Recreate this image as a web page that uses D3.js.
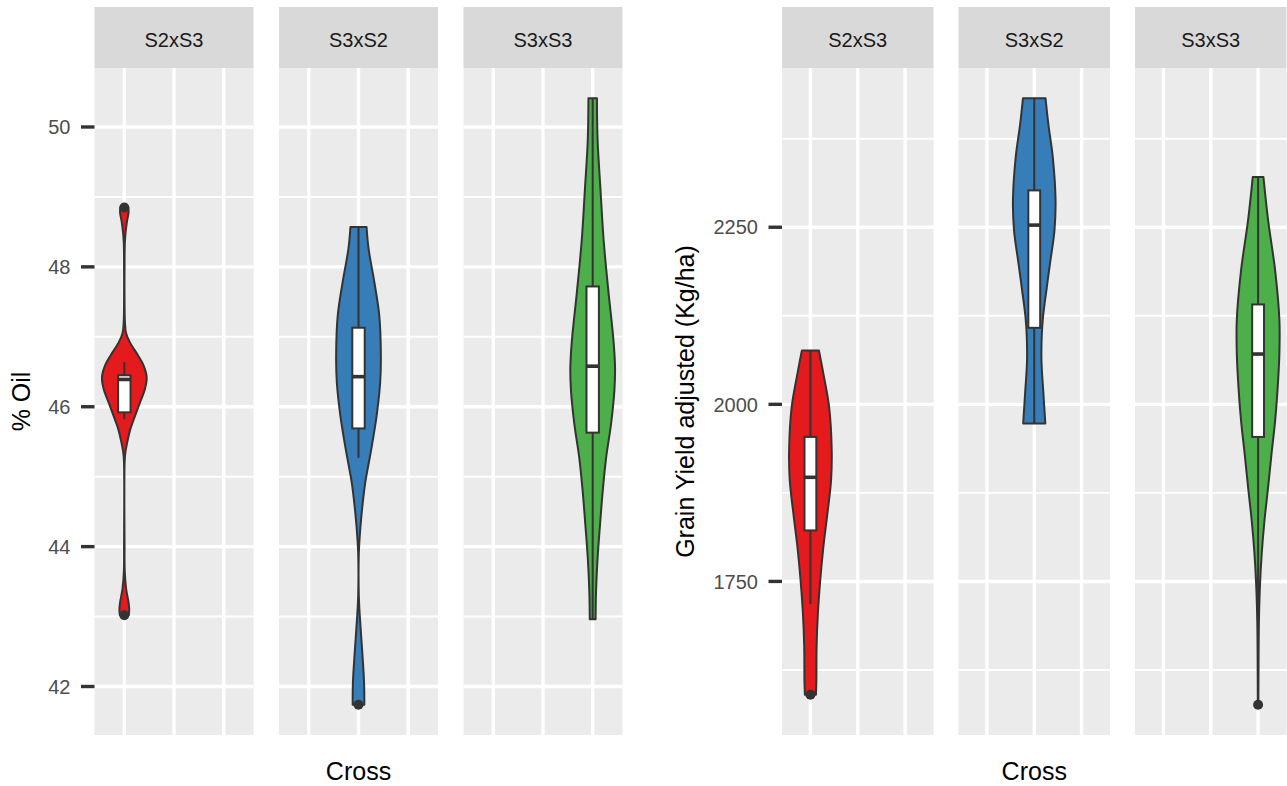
<!DOCTYPE html>
<html><head><meta charset="utf-8">
<script src="https://cdn.jsdelivr.net/npm/d3@7/dist/d3.min.js"></script>
<style>
body{margin:0;background:#fff}
svg{display:block}
text{font-family:"Liberation Sans",Arial,Helvetica,sans-serif}
</style>
</head><body>
<svg id="chart" width="1287" height="786"></svg>
<script>
// ---------------- DATA ----------------
const crosses = ["S2xS3", "S3xS2", "S3xS3"];
const crossColors = ["#E41A1C", "#377EB8", "#4DAF4A"];

// % Oil
const oilTicks = [42, 44, 46, 48, 50];
const oilMinorTicks = [43, 45, 47, 49, 51];
// violin profiles: [value, relative density (0..1)]
const oilViolinS2xS3 = [
  [48.85,0.18],[48.78,0.19],[48.65,0.12],[48.5,0.06],[48.35,0.025],[48.0,0.012],[47.5,0.012],
  [47.2,0.03],[47.05,0.08],[46.92,0.25],[46.73,0.62],[46.59,0.86],[46.42,1.0],[46.25,0.92],
  [46.06,0.70],[45.87,0.48],[45.68,0.27],[45.49,0.13],[45.34,0.045],[45.2,0.015],[44.0,0.012],
  [43.65,0.02],[43.4,0.08],[43.2,0.19],[43.1,0.22],[43.02,0.2]
];
const oilViolinS3xS2 = [
  [48.57,0.36],[48.26,0.45],[47.78,0.71],[47.30,0.93],[46.73,1.0],[46.35,0.97],[45.87,0.81],
  [45.39,0.57],[44.91,0.30],[44.44,0.13],[44.10,0.045],[43.9,0.015],[43.3,0.015],[43.0,0.06],
  [42.53,0.16],[42.05,0.25],[41.74,0.26]
];
const oilViolinS3xS3 = [
  [50.41,0.19],[49.81,0.22],[49.10,0.35],[48.38,0.49],[47.66,0.70],[46.95,0.93],[46.56,1.0],
  [46.23,0.97],[45.75,0.82],[45.27,0.60],[44.80,0.45],[44.32,0.33],[43.84,0.22],[43.36,0.15],
  [42.96,0.13]
];
// box stats: [lower whisker, Q1, median, Q3, upper whisker]
const oilBoxS2xS3 = [45.82, 45.92, 46.39, 46.45, 46.64];
const oilBoxS3xS2 = [45.27, 45.69, 46.43, 47.13, 48.57];
const oilBoxS3xS3 = [42.96, 45.63, 46.58, 47.72, 50.41];
const oilOutliersS2xS3 = [48.85, 43.02];
const oilOutliersS3xS2 = [41.74];
const oilOutliersS3xS3 = [];

// Grain yield
const yieldTicks = [1750, 2000, 2250];
const yieldMinorTicks = [1625, 1875, 2125, 2375];
const yieldViolinS2xS3 = [
  [2076,0.40],[2043,0.61],[1996,0.88],[1935,1.0],[1893,0.97],[1846,0.80],[1799,0.61],
  [1751,0.46],[1704,0.35],[1657,0.29],[1610,0.28],[1590,0.26]
];
const yieldViolinS3xS2 = [
  [2432,0.53],[2396,0.66],[2349,0.87],[2288,1.0],[2246,0.95],[2199,0.74],[2161,0.57],
  [2123,0.41],[2095,0.35],[2060,0.34],[2020,0.42],[1973,0.52]
];
const yieldViolinS3xS3 = [
  [2321,0.25],[2260,0.47],[2189,0.80],[2119,1.0],[2072,1.0],[2024,0.92],[1977,0.80],
  [1930,0.63],[1883,0.47],[1836,0.30],[1789,0.17],[1742,0.085],[1695,0.04],[1648,0.025],
  [1576,0.015]
];
const yieldBoxS2xS3 = [1718, 1822, 1897, 1954, 2076];
const yieldBoxS3xS2 = [1973, 2108, 2253, 2302, 2432];
const yieldBoxS3xS3 = [1705, 1954, 2071, 2141, 2321];
const yieldOutliersS2xS3 = [1590];
const yieldOutliersS3xS2 = [];
const yieldOutliersS3xS3 = [1576];

// ---------------- DRAWING ----------------
const svg = d3.select("#chart");
const stripTop = 7, panelTop = 68, panelBottom = 735;
const ink = "#333333";

function drawPlot(cfg) {
  const g = svg.append("g");
  const allVals = cfg.violins.flatMap(v => v.map(d => d[0])).concat(cfg.outliers.flat());
  const [mn, mx] = d3.extent(allVals);
  const pad = (mx - mn) * 0.05;
  const y = d3.scaleLinear().domain([mn - pad, mx + pad]).range([panelBottom, panelTop]);

  crosses.forEach((cross, i) => {
    const px = cfg.x0 + i * (cfg.panelW + cfg.gap);
    const x = d3.scalePoint().domain(crosses).range([px, px + cfg.panelW]).padding(0.6);
    const step = x.step();
    const pg = g.append("g");

    // panel background
    pg.append("rect").attr("x", px).attr("y", panelTop)
      .attr("width", cfg.panelW).attr("height", panelBottom - panelTop).attr("fill", "#EBEBEB");
    // minor grid
    pg.selectAll(".minor").data(cfg.minor.filter(t => y(t) >= panelTop && y(t) <= panelBottom))
      .enter().append("line")
      .attr("x1", px).attr("x2", px + cfg.panelW)
      .attr("y1", d => y(d)).attr("y2", d => y(d))
      .attr("stroke", "#fff").attr("stroke-width", 1.9);
    // major grid
    pg.selectAll(".major").data(cfg.ticks).enter().append("line")
      .attr("x1", px).attr("x2", px + cfg.panelW)
      .attr("y1", d => y(d)).attr("y2", d => y(d))
      .attr("stroke", "#fff").attr("stroke-width", 3.4);
    pg.selectAll(".vmajor").data(crosses).enter().append("line")
      .attr("x1", d => x(d)).attr("x2", d => x(d))
      .attr("y1", panelTop).attr("y2", panelBottom)
      .attr("stroke", "#fff").attr("stroke-width", 3.4);

    // strip
    pg.append("rect").attr("x", px).attr("y", stripTop)
      .attr("width", cfg.panelW).attr("height", panelTop - stripTop).attr("fill", "#D9D9D9");
    pg.append("text").attr("x", px + cfg.panelW / 2).attr("y", 46.5)
      .attr("text-anchor", "middle").attr("font-size", 20).attr("fill", "#1A1A1A").text(cross);

    // violin
    const cx = x(cross);
    const hw = 0.45 * step;
    const area = d3.area()
      .y(d => y(d[0]))
      .x0(d => cx - d[1] * hw)
      .x1(d => cx + d[1] * hw)
      .curve(d3.curveCatmullRom.alpha(0.5));
    pg.append("path").datum(cfg.violins[i]).attr("d", area)
      .attr("fill", crossColors[i]).attr("stroke", ink).attr("stroke-width", 2)
      .attr("stroke-linejoin", "round");

    // boxplot
    const [lo, q1, med, q3, hi] = cfg.boxes[i];
    const bw = 0.25 * step;
    pg.append("line").attr("x1", cx).attr("x2", cx).attr("y1", y(hi)).attr("y2", y(q3))
      .attr("stroke", ink).attr("stroke-width", 2);
    pg.append("line").attr("x1", cx).attr("x2", cx).attr("y1", y(q1)).attr("y2", y(lo))
      .attr("stroke", ink).attr("stroke-width", 2);
    pg.append("rect").attr("x", cx - bw / 2).attr("y", y(q3))
      .attr("width", bw).attr("height", y(q1) - y(q3))
      .attr("fill", "#fff").attr("stroke", ink).attr("stroke-width", 2);
    pg.append("line").attr("x1", cx - bw / 2).attr("x2", cx + bw / 2)
      .attr("y1", y(med)).attr("y2", y(med)).attr("stroke", ink).attr("stroke-width", 3.6);
    pg.selectAll(".out").data(cfg.outliers[i]).enter().append("circle")
      .attr("cx", cx).attr("cy", d => y(d)).attr("r", 5).attr("fill", ink);
  });

  // y axis
  const ax = g.append("g");
  ax.selectAll(".tk").data(cfg.ticks).enter().append("line")
    .attr("x1", cfg.x0 - 13.5).attr("x2", cfg.x0)
    .attr("y1", d => y(d)).attr("y2", d => y(d))
    .attr("stroke", ink).attr("stroke-width", 3.4);
  ax.selectAll(".tl").data(cfg.ticks).enter().append("text")
    .attr("x", cfg.x0 - 24).attr("y", d => y(d)).attr("dy", "0.36em")
    .attr("text-anchor", "end").attr("font-size", 20).attr("fill", "#4D4D4D")
    .text(d => d);
  // y title
  const midY = (panelTop + panelBottom) / 2;
  g.append("text").attr("transform", `translate(${cfg.yTitleX},${midY}) rotate(-90)`)
    .attr("text-anchor", "middle").attr("dy", "0.36em").attr("font-size", 25).attr("fill", "#000")
    .text(cfg.yTitle);
  // x title
  const xEnd = cfg.x0 + 3 * cfg.panelW + 2 * cfg.gap;
  g.append("text").attr("x", (cfg.x0 + xEnd) / 2).attr("y", 780)
    .attr("text-anchor", "middle").attr("font-size", 25).attr("fill", "#000").text("Cross");
}

drawPlot({
  x0: 94.5, panelW: 159, gap: 25.5,
  yTitle: "% Oil", yTitleX: 21,
  ticks: oilTicks, minor: oilMinorTicks,
  violins: [oilViolinS2xS3, oilViolinS3xS2, oilViolinS3xS3],
  boxes: [oilBoxS2xS3, oilBoxS3xS2, oilBoxS3xS3],
  outliers: [oilOutliersS2xS3, oilOutliersS3xS2, oilOutliersS3xS3]
});
drawPlot({
  x0: 782, panelW: 151.5, gap: 25,
  yTitle: "Grain Yield adjusted (Kg/ha)", yTitleX: 685,
  ticks: yieldTicks, minor: yieldMinorTicks,
  violins: [yieldViolinS2xS3, yieldViolinS3xS2, yieldViolinS3xS3],
  boxes: [yieldBoxS2xS3, yieldBoxS3xS2, yieldBoxS3xS3],
  outliers: [yieldOutliersS2xS3, yieldOutliersS3xS2, yieldOutliersS3xS3]
});
</script>
</body></html>
